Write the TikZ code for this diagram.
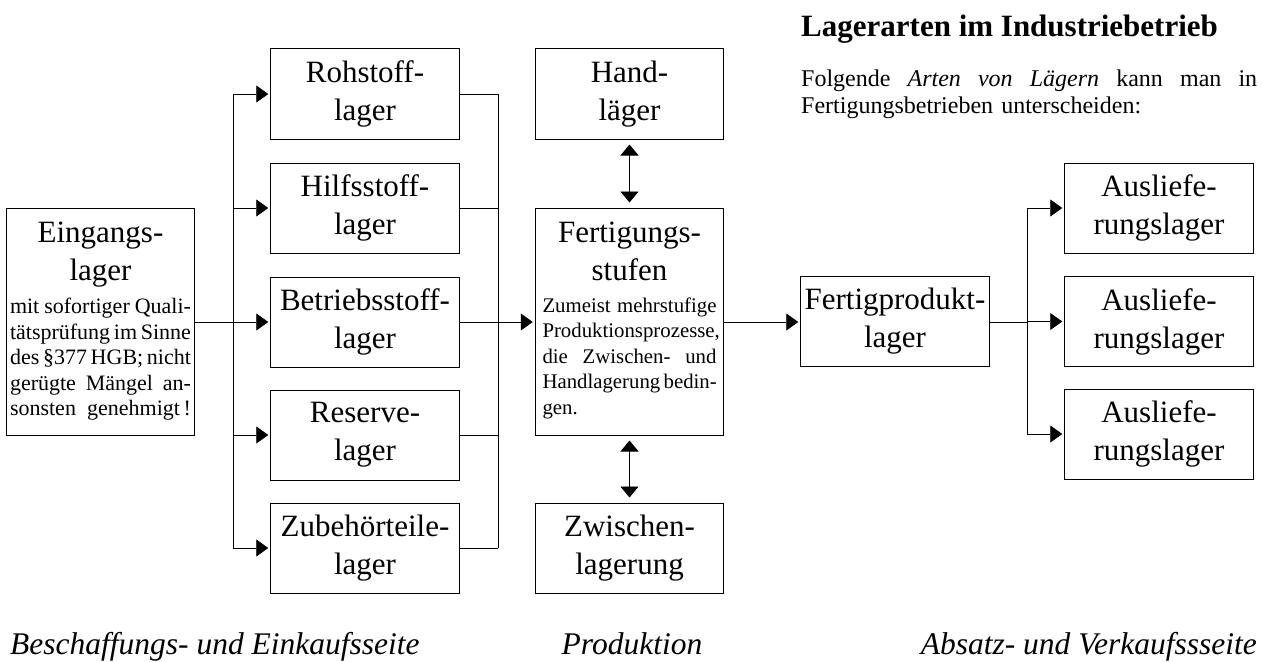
\documentclass[tikz,border=0pt]{standalone}
\usepackage{fontspec}
\setmainfont{Liberation Serif}
\usetikzlibrary{arrows.meta}
\setlength{\parskip}{0pt}
\setlength{\parindent}{0pt}
\newcommand{\bigf}{\fontsize{31}{38}\selectfont}
\newcommand{\smallf}{\fontsize{22}{25.5}\selectfont}
\newcommand{\smallff}{\fontsize{20.8}{25.5}\selectfont}
\newlength{\jw}
\newcommand{\jl}[1]{\hbox to \jw{#1}}
\newcommand{\myLastLine}[1]{\hbox to \jw{#1\hfil}}
\newcommand{\gap}{ \hfill}
\begin{document}
\begin{tikzpicture}[x=1pt,y=-1pt,
  box/.style={draw, line width=1pt, minimum width=188.5pt, minimum height=90pt, inner sep=0pt, align=center, font=\bigf},
  bigbox/.style={draw, line width=1pt, minimum width=188.5pt, minimum height=227pt, inner sep=0pt},
  inbox/.style={anchor=base, inner sep=0pt, text width=#1, align=center},
  conn/.style={line width=0.8pt},
  arr/.style={conn, -{Triangle[length=12pt,width=17pt]}, shorten >=2pt},
  darr/.style={conn, {Triangle[length=11pt,width=18pt]}-{Triangle[length=11pt,width=18pt]}, shorten >=5pt, shorten <=5pt},
  lbl/.style={inner sep=0pt, font=\itshape\fontsize{31.5}{36}\selectfont}
]
\useasboundingbox (0,0) rectangle (1263,661);

% Eingangslager
\node[bigbox] (ein) at (100.5,322) {};
\node[inbox=181pt] (einT) at (100.5,242) {{\bigf Eingangs-\\lager\par}\vspace{8pt}
  {\smallf\setlength{\jw}{181pt}%
  \jl{mit\gap sofortiger\gap Quali-}\par
  \jl{tätsprüfung\gap im\gap Sinne}\par
  \jl{des\gap §377\gap HGB;\gap nicht}\par
  \jl{gerügte\gap Mängel\gap an-}\par
  \jl{sonsten\gap genehmigt\,!}\par}};

% left column
\node[box] (roh) at (365,94) {Rohstoff-\\lager};
\node[box] (hilf) at (365,208) {Hilfsstoff-\\lager};
\node[box] (betr) at (365,322) {Betriebsstoff-\\lager};
\node[box] (res) at (365,435) {Reserve-\\lager};
\node[box] (zub) at (365,548) {Zubehörteile-\\lager};

% production column
\node[box] (hand) at (629.5,94) {Hand-\\läger};
\node[bigbox] (fert) at (629.5,321.5) {};
\node[inbox=174pt] (fertT) at (629.5,242) {{\bigf Fertigungs-\\stufen\par}\vspace{6.5pt}
  {\smallff\setlength{\jw}{174pt}%
  \jl{Zumeist\gap mehrstufige}\par
  \jl{Produktionsprozesse,\hss}\par
  \jl{die\gap Zwischen-\gap und}\par
  \jl{Handlagerung\gap bedin-}\par
  \myLastLine{gen.}\par}};
\node[box] (zw) at (629.5,548) {Zwischen-\\lagerung};

% sales side
\node[box] (fp) at (895,321.5) {Fertigprodukt-\\lager};
\node[box] (a1) at (1159,208) {Ausliefe-\\rungslager};
\node[box] (a2) at (1159,321.5) {Ausliefe-\\rungslager};
\node[box] (a3) at (1159,434) {Ausliefe-\\rungslager};

% junctions
\coordinate (L) at (233,322);
\coordinate (R) at (498,322);
\coordinate (Q) at (1027,322);

% left distribution
\draw[conn] (ein.east |- L) -- (L);
\draw[conn] (L |- roh.west) -- (L |- zub.west);
\foreach \n in {roh,hilf,betr,res,zub}{
  \draw[arr] (L |- \n.west) -- (\n.west);
  \draw[conn] (\n.east) -- (R |- \n.east);
}
\draw[conn] (R |- roh.east) -- (R |- zub.east);
\draw[arr] (R) -- (fert.west |- R);

% production
\draw[darr] (hand.south) -- (fert.north);
\draw[darr] (fert.south) -- (zw.north);
\draw[arr] (fert.east |- R) -- (fp.west |- R);

% delivery
\draw[conn] (fp.east |- Q) -- (Q);
\draw[conn] (Q |- a1.west) -- (Q |- a3.west);
\foreach \n in {a1,a2,a3}{
  \draw[arr] (Q |- \n.west) -- (\n.west);
}

% texts
\node[anchor=base west, inner sep=0pt, font=\bfseries\fontsize{31}{36}\selectfont] (title) at (801,37) {Lagerarten im Industriebetrieb};
\node[anchor=base west, inner sep=0pt, text width=456pt, font=\fontsize{24}{27}\selectfont] (para) at (801,86)
  {\setlength{\jw}{456pt}\jl{Folgende\gap \textit{Arten}\gap \textit{von}\gap \textit{Lägern}\gap kann\gap man\gap in}\par
   \setlength{\jw}{340pt}\jl{Fertigungsbetrieben\gap unterscheiden:}\par};

\node[lbl, anchor=base west] (b1) at (10,654) {Beschaffungs- und Einkaufsseite};
\node[lbl, anchor=base] (b2) at (632,654) {Produktion};
\node[lbl, anchor=base east] (b3) at (1257,654) {Absatz- und Verkaufssseite};
\end{tikzpicture}
\end{document}
